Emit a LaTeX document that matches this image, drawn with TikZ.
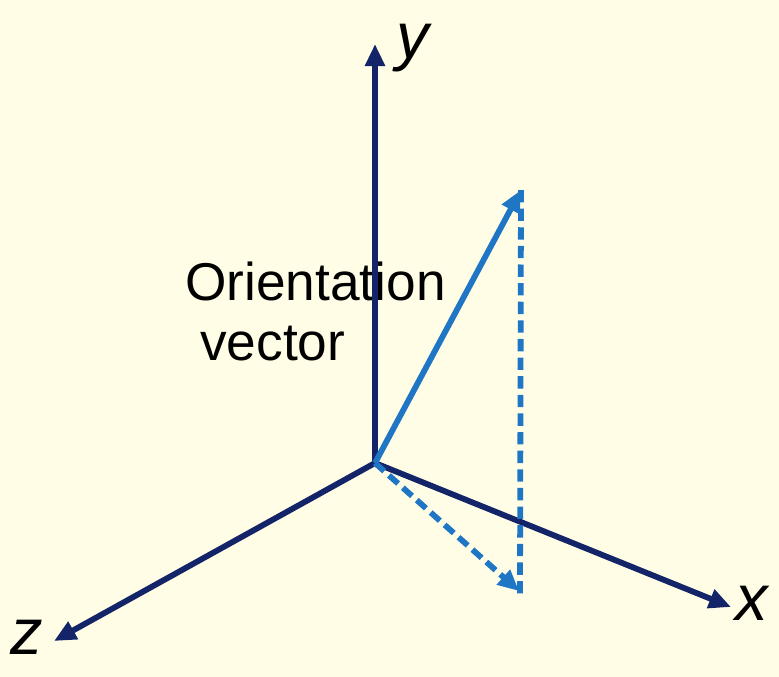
\documentclass[tikz,border=0pt]{standalone}
\usepackage{fontspec}
\setmainfont{Liberation Sans}
\usepackage{xcolor}
\usetikzlibrary{arrows.meta}
\definecolor{bgyellow}{RGB}{255,253,230}
\definecolor{axisblue}{RGB}{20,36,104}
\definecolor{vecblue}{RGB}{30,118,196}

\begin{document}
\begin{tikzpicture}[
    x=0.02cm, y=-0.02cm,
    axis/.style={axisblue, line width=3.3pt, -{Triangle[length=0.44cm, width=0.38cm]}},
    vec/.style={vecblue, line width=3.3pt, -{Triangle[length=0.44cm, width=0.38cm]}},
    proj/.style={vecblue, line width=3.3pt, dash pattern=on 7pt off 3.6pt},
    axlabel/.style={inner sep=0pt, font=\fontsize{37}{40}\selectfont\itshape},
    caption/.style={inner sep=0pt, anchor=base west, font=\fontsize{30.3}{36}\selectfont}
]
\fill[bgyellow] (0,0) rectangle (779,677);

% label first, the y axis runs over it
\node[caption] (capA) at (185,300) {Orientation};
\node[caption] (capB) at (200,360) {vector};

\coordinate (O) at (375,463);
\coordinate (ytip) at (375,44);
\coordinate (xtip) at (731,607);
\coordinate (ztip) at (54,641);
\coordinate (vtip) at (521,190);
\coordinate (foot) at (520,594);
\coordinate (ptip) at (519,591);

\draw[axis] (O) -- (ytip);
\draw[axis] (O) -- (xtip);
\draw[axis] (O) -- (ztip);

\draw[proj] (vtip) -- (foot);
\draw[proj, -{Triangle[length=0.42cm, width=0.38cm]}] (O) -- (ptip);
\draw[vec] (O) -- (vtip);

\node[axlabel] (ylab) at (413,48) {y};
\node[axlabel] (xlab) at (752,603) {x};
\node[axlabel] (zlab) at (27,637) {z};
\end{tikzpicture}
\end{document}
